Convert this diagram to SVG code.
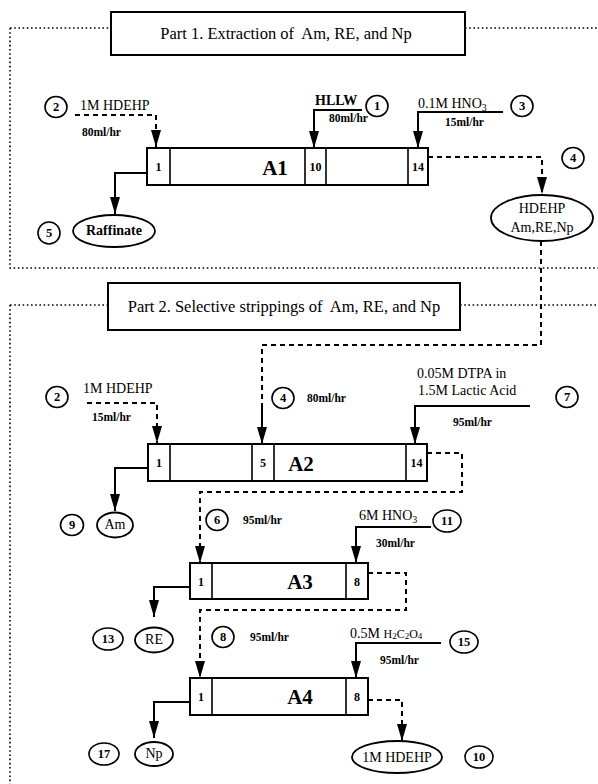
<svg xmlns="http://www.w3.org/2000/svg" width="598" height="784" viewBox="0 0 598 784">
<defs>
<marker id="ah" markerUnits="userSpaceOnUse" markerWidth="17" markerHeight="10" viewBox="0 0 17 10" refX="17" refY="5" orient="auto">
<path d="M0,0 L17,5 L0,10 z" fill="#000"/>
</marker>
<style>
text{font-family:"Liberation Serif","Times New Roman",serif;fill:#000}
.box{fill:#fff;stroke:#000;stroke-width:2}
.cell{fill:none;stroke:#000;stroke-width:1.6}
.solid{fill:none;stroke:#000;stroke-width:2}
.dash{fill:none;stroke:#000;stroke-width:2;stroke-dasharray:5,4}
.dot{fill:none;stroke:#000;stroke-width:1.6;stroke-dasharray:1.6,2.6}
.num{fill:#fff;stroke:#000;stroke-width:1.6}
.prod{fill:#fff;stroke:#000;stroke-width:1.8}
.nt{font-size:12.5px;font-weight:bold;text-anchor:middle}
.rate{font-size:11.5px;font-weight:bold}
.feed{font-size:14px}
.title{font-size:16.5px;text-anchor:middle}
.big{font-size:21px;font-weight:bold;text-anchor:middle}
.cn{font-size:12px;font-weight:bold;text-anchor:middle}
.pt{font-size:14px;text-anchor:middle}
</style>
</defs>
<rect width="598" height="784" fill="#fff"/>

<g id="frames">
<path class="dot" d="M10,28 H111 M465,28 H598 M10,28 V268 H598"/>
<path class="dot" d="M10,305 H108 M460,305 H598 M10,305 V784"/>
</g>

<g id="connectors">
<path class="dash" d="M75,115 H156 V147" marker-end="url(#ah)"/>
<path class="solid" d="M362,110 H314 V148" marker-end="url(#ah)"/>
<path class="solid" d="M503,112 H418 V148" marker-end="url(#ah)"/>
<path class="solid" d="M147,173 H115 V214" marker-end="url(#ah)"/>
<path class="dash" d="M428,157 H542 V194" marker-end="url(#ah)"/>
<path class="dash" d="M541,241 V345 H262 V405"/>
<path class="solid" d="M262,403 V444" marker-end="url(#ah)"/>
<path class="dash" d="M87,403 H157 V443" marker-end="url(#ah)"/>
<path class="solid" d="M530,406 H415 V444" marker-end="url(#ah)"/>
<path class="solid" d="M148,468 H115 V511" marker-end="url(#ah)"/>
<path class="dash" d="M427,453 H462 V492 H200 V563" marker-end="url(#ah)"/>
<path class="solid" d="M431,527 H356 V563" marker-end="url(#ah)"/>
<path class="solid" d="M190,587 H154 V617" marker-end="url(#ah)"/>
<path class="dash" d="M368,573 H406 V610 H200 V678" marker-end="url(#ah)"/>
<path class="solid" d="M441,643 H356 V678" marker-end="url(#ah)"/>
<path class="solid" d="M190,702 H154 V738" marker-end="url(#ah)"/>
<path class="dash" d="M368,700 H402 V741" marker-end="url(#ah)"/>
</g>

<g id="part1-title">
<rect class="box" x="111" y="12" width="354" height="43"/>
<text class="title" x="286" y="39">Part 1. Extraction of&#160; Am, RE, and Np</text>
</g>

<g id="part2-title">
<rect class="box" x="108" y="283" width="352" height="47"/>
<text class="title" x="284" y="312">Part 2. Selective strippings of&#160; Am, RE, and Np</text>
</g>

<g id="A1">
<rect class="box" x="147" y="148" width="281" height="37"/>
<path class="cell" d="M170,148 V185 M305,148 V185 M326,148 V185 M408,148 V185"/>
<text class="cn" x="158.5" y="171">1</text>
<text class="cn" x="315.5" y="171">10</text>
<text class="cn" x="418" y="171">14</text>
<text class="big" x="275" y="175">A1</text>
</g>

<g id="A2">
<rect class="box" x="148" y="444" width="279" height="37"/>
<path class="cell" d="M170,444 V481 M252,444 V481 M274,444 V481 M406,444 V481"/>
<text class="cn" x="159" y="467">1</text>
<text class="cn" x="263" y="467">5</text>
<text class="cn" x="416.5" y="467">14</text>
<text class="big" x="301" y="471">A2</text>
</g>

<g id="A3">
<rect class="box" x="190" y="563" width="178" height="36"/>
<path class="cell" d="M212,563 V599 M346,563 V599"/>
<text class="cn" x="201" y="586">1</text>
<text class="cn" x="357" y="586">8</text>
<text class="big" x="300" y="589">A3</text>
</g>

<g id="A4">
<rect class="box" x="190" y="678" width="178" height="37"/>
<path class="cell" d="M212,678 V715 M346,678 V715"/>
<text class="cn" x="201" y="701">1</text>
<text class="cn" x="357" y="701">8</text>
<text class="big" x="300" y="704">A4</text>
</g>

<g id="feed-2a">
<ellipse class="num" cx="56" cy="107" rx="11" ry="10.5"/>
<text class="nt" x="56" y="111">2</text>
<text class="feed" x="80" y="110">1M HDEHP</text>
<text class="rate" x="82" y="136">80ml/hr</text>
</g>

<g id="feed-1">
<text class="feed" x="315" y="105" font-weight="bold" font-size="13">HLLW</text>
<ellipse class="num" cx="377" cy="106" rx="11" ry="10.5"/>
<text class="nt" x="377" y="110">1</text>
<text class="rate" x="329" y="122">80ml/hr</text>
</g>

<g id="feed-3">
<text class="feed" x="418" y="108" font-size="15">0.1M HNO<tspan font-size="10" dy="3">3</tspan></text>
<ellipse class="num" cx="522" cy="106" rx="11" ry="10.5"/>
<text class="nt" x="522" y="110">3</text>
<text class="rate" x="445" y="126">15ml/hr</text>
</g>

<g id="raffinate">
<ellipse class="num" cx="49" cy="233" rx="11" ry="11"/>
<text class="nt" x="49" y="237">5</text>
<ellipse class="prod" cx="114" cy="231" rx="41" ry="16"/>
<text class="pt" x="114" y="235" font-size="12" font-weight="bold">Raffinate</text>
</g>

<g id="loaded-solvent">
<ellipse class="num" cx="573" cy="158" rx="11" ry="10.5"/>
<text class="nt" x="573" y="162">4</text>
<ellipse class="prod" cx="542" cy="218" rx="51" ry="23"/>
<text class="pt" x="542" y="213" font-size="15">HDEHP</text>
<text class="pt" x="542" y="232" font-size="15">Am,RE,Np</text>
</g>

<g id="feed-2b">
<ellipse class="num" cx="57" cy="397" rx="11" ry="10.5"/>
<text class="nt" x="57" y="401">2</text>
<text class="feed" x="83" y="393">1M HDEHP</text>
<text class="rate" x="92" y="421">15ml/hr</text>
</g>

<g id="feed-4">
<ellipse class="num" cx="283" cy="398" rx="11" ry="10.5"/>
<text class="nt" x="283" y="402">4</text>
<text class="rate" x="307" y="402">80ml/hr</text>
</g>

<g id="feed-7">
<text class="feed" x="417" y="378" font-size="15">0.05M DTPA in</text>
<text class="feed" x="418" y="395" font-size="15">1.5M Lactic Acid</text>
<ellipse class="num" cx="567" cy="397" rx="11" ry="10.5"/>
<text class="nt" x="567" y="401">7</text>
<text class="rate" x="453" y="426">95ml/hr</text>
</g>

<g id="product-Am">
<ellipse class="num" cx="72" cy="525" rx="11.5" ry="10.5"/>
<text class="nt" x="72" y="529">9</text>
<ellipse class="prod" cx="115" cy="525" rx="18" ry="12.5"/>
<text class="pt" x="115" y="529" font-size="13">Am</text>
</g>

<g id="stream-6">
<ellipse class="num" cx="217" cy="520" rx="11" ry="10.5"/>
<text class="nt" x="217" y="524">6</text>
<text class="rate" x="243" y="524">95ml/hr</text>
</g>

<g id="feed-11">
<text class="feed" x="359" y="520" font-size="15">6M HNO<tspan font-size="10" dy="3">3</tspan></text>
<ellipse class="num" cx="447" cy="521" rx="14" ry="11"/>
<text class="nt" x="447" y="525">11</text>
<text class="rate" x="376" y="547">30ml/hr</text>
</g>

<g id="product-RE">
<ellipse class="num" cx="108" cy="639" rx="15" ry="11"/>
<text class="nt" x="108" y="643">13</text>
<ellipse class="prod" cx="154" cy="640" rx="19" ry="12.5"/>
<text class="pt" x="154" y="644" font-size="13">RE</text>
</g>

<g id="stream-8">
<ellipse class="num" cx="223" cy="637" rx="11" ry="10.5"/>
<text class="nt" x="223" y="641">8</text>
<text class="rate" x="250" y="641">95ml/hr</text>
</g>

<g id="feed-15">
<text class="feed" x="350" y="638">0.5M <tspan font-size="12">H</tspan><tspan font-size="9" dy="1">2</tspan><tspan font-size="12" dy="-1">C</tspan><tspan font-size="9" dy="1">2</tspan><tspan font-size="12" dy="-1">O</tspan><tspan font-size="9" dy="1">4</tspan></text>
<ellipse class="num" cx="464" cy="642" rx="14" ry="11"/>
<text class="nt" x="464" y="646">15</text>
<text class="rate" x="380" y="664">95ml/hr</text>
</g>

<g id="product-Np">
<ellipse class="num" cx="104" cy="754" rx="15" ry="11"/>
<text class="nt" x="104" y="758">17</text>
<ellipse class="prod" cx="154" cy="754" rx="19" ry="12"/>
<text class="pt" x="154" y="758" font-size="13">Np</text>
</g>

<g id="recycle-solvent">
<ellipse class="prod" cx="397" cy="757" rx="45" ry="16"/>
<text class="pt" x="397" y="762">1M HDEHP</text>
<ellipse class="num" cx="479" cy="757" rx="14" ry="11"/>
<text class="nt" x="479" y="761">10</text>
</g>
</svg>
